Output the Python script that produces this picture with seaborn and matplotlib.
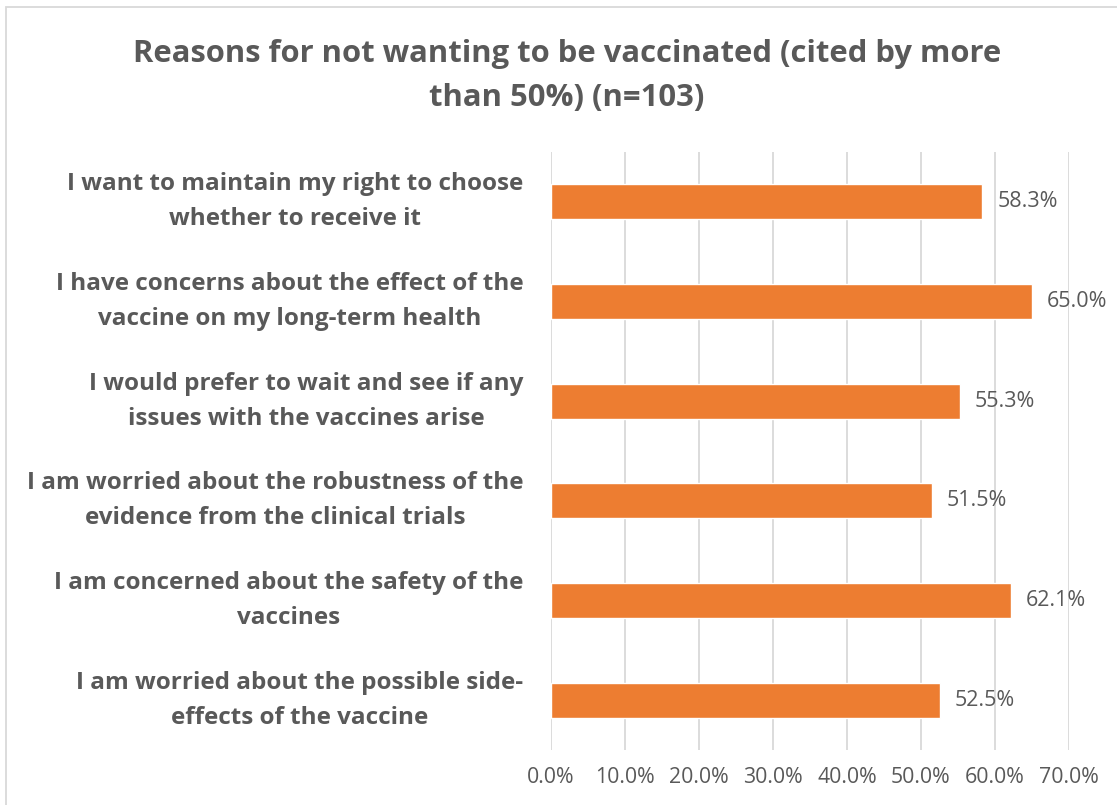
import matplotlib
matplotlib.use("Agg")
import matplotlib.pyplot as plt
import matplotlib.ticker as mticker
import seaborn as sns
import pandas as pd
from matplotlib.patches import Rectangle

reasons = [
    "I want to maintain my right to choose\nwhether to receive it",
    "I have concerns about the effect of the\nvaccine on my long-term health",
    "I would prefer to wait and see if any\nissues with the vaccines arise",
    "I am worried about the robustness of the\nevidence from the clinical trials",
    "I am concerned about the safety of the\nvaccines",
    "I am worried about the possible side-\neffects of the vaccine",
]
percent = [58.3, 65.0, 55.3, 51.5, 62.1, 52.5]
x_ticks = [0, 10, 20, 30, 40, 50, 60, 70]

title = "Reasons for not wanting to be vaccinated (cited by more\nthan 50%) (n=103)"

BAR = "#ED7D31"
TEXT = "#595959"
GRID = "#D9D9D9"

sns.set_theme(style="white")
plt.rcParams["font.family"] = ["Open Sans", "DejaVu Sans"]

df = pd.DataFrame({"reason": reasons, "percent": percent})

fig = plt.figure(figsize=(11.17, 8.05), dpi=100)
ax = fig.add_axes([551 / 1117, 55 / 805, 518 / 1117, 598 / 805])

sns.barplot(data=df, x="percent", y="reason", orient="h", color=BAR,
            width=0.35, saturation=1, ax=ax, zorder=3)

ax.set_xlim(0, 70)
ax.set_xticks(x_ticks)
ax.xaxis.set_major_formatter(mticker.FuncFormatter(lambda v, p: f"{v:.1f}%"))
ax.grid(axis="x", color=GRID, linewidth=1.3, zorder=0)
ax.set_axisbelow(True)
for s in ax.spines.values():
    s.set_visible(False)
ax.set_xlabel("")
ax.set_ylabel("")
ax.tick_params(axis="x", length=0, pad=12, labelsize=15.3, labelcolor=TEXT)
ax.tick_params(axis="y", length=0, pad=20, labelsize=17.5, labelcolor=TEXT)
for lbl in ax.get_yticklabels():
    lbl.set_fontweight("bold")
    lbl.set_multialignment("center")
    lbl.set_verticalalignment("center")
    lbl.set_linespacing(1.6)

for i, v in enumerate(percent):
    ax.text(v + 2.0, i, f"{v:.1f}%", va="center", ha="left",
            fontsize=15.5, color=TEXT)

fig.text(567 / 1117, 1 - 76 / 805, title, ha="center", va="center",
         fontsize=22.3, fontweight="bold", color=TEXT, linespacing=1.58)

fig.patches.append(Rectangle((6 / 1117, -0.1), 1.2, 1 - 7 / 805 + 0.1,
                             transform=fig.transFigure, fill=False,
                             edgecolor=GRID, linewidth=1.3))

fig.savefig("out.png", dpi=100, facecolor="white")
